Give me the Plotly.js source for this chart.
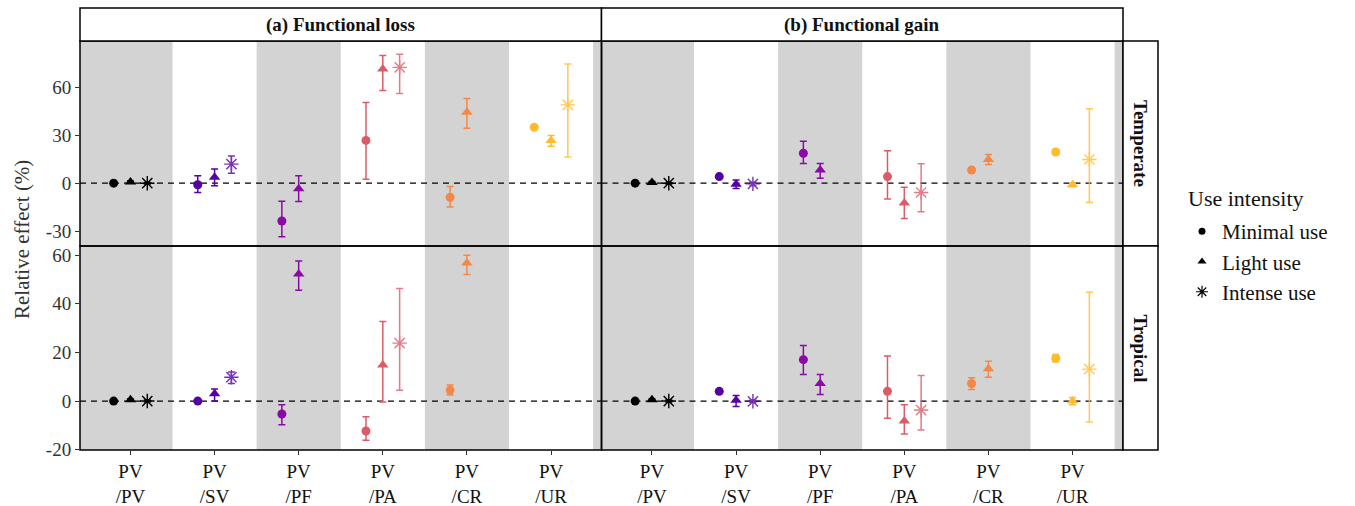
<!DOCTYPE html>
<html>
<head>
<meta charset="utf-8">
<script src="https://cdn.plot.ly/plotly-3.0.1.min.js"></script>
<style>html,body{margin:0;padding:0;background:#fff;}#chart{width:1355px;height:506px;}</style>
</head>
<body>
<div id="chart"></div>
<script>
// ---------- data ----------
const categories = ['PV/PV', 'PV/SV', 'PV/PF', 'PV/PA', 'PV/CR', 'PV/UR'];
const tickLabels = ['PV<br>/PV', 'PV<br>/SV', 'PV<br>/PF', 'PV<br>/PA', 'PV<br>/CR', 'PV<br>/UR'];
const categoryColors = ['#000000', '#5402a3', '#8b0aa5', '#db5c68', '#f48849', '#febc2a'];
const intensities = ['Minimal use', 'Light use', 'Intense use'];
const legendTitle = 'Use intensity';
const columns = ['(a) Functional loss', '(b) Functional gain'];
const rows = ['Temperate', 'Tropical'];
const yTicksTemperate = [-30, 0, 30, 60];
const yTicksTropical = [-20, 0, 20, 40, 60];

// (a) Functional loss, Temperate
const lossTempMinimal   = [0, -1.0, -23.6, 26.7, -8.8, 34.9];
const lossTempMinimalLo = [-0.6, -5.8, -33.5, 2.5, -14.8, 33.6];
const lossTempMinimalHi = [0.6, 4.7, -11.3, 50.3, -2.0, 36.3];
const lossTempLight     = [0.8, 3.7, -3.5, 71.3, 44.2, 26.7];
const lossTempLightLo   = [0.3, -1.6, -11.5, 57.9, 34.3, 23.0];
const lossTempLightHi   = [1.3, 8.8, 4.7, 79.7, 52.8, 29.8];
const lossTempIntense   = [0, 11.9, null, 72.3, null, 48.9];
const lossTempIntenseLo = [-0.5, 6.2, null, 56.0, null, 16.4];
const lossTempIntenseHi = [0.5, 17.0, null, 80.5, null, 74.4];

// (b) Functional gain, Temperate
const gainTempMinimal   = [0, 4.1, 18.7, 4.1, 8.2, 19.5];
const gainTempMinimalLo = [-0.5, 3.1, 12.3, -9.9, 6.7, 18.0];
const gainTempMinimalHi = [0.5, 5.1, 26.1, 20.3, 9.7, 21.0];
const gainTempLight     = [0.5, -0.6, 8.2, -12.3, 14.8, -1.0];
const gainTempLightLo   = [0.0, -3.3, 3.1, -22.0, 11.7, -2.0];
const gainTempLightHi   = [1.0, 2.0, 12.3, -2.5, 17.9, 0.0];
const gainTempIntense   = [0, -0.4, null, -5.8, null, 14.8];
const gainTempIntenseLo = [-0.5, -1.4, null, -17.9, null, -12.1];
const gainTempIntenseHi = [0.5, 0.6, null, 12.1, null, 46.4];

// (a) Functional loss, Tropical
const lossTropMinimal   = [0, 0, -5.3, -12.3, 4.5, null];
const lossTropMinimalLo = [-0.4, -0.4, -9.7, -16.1, 2.5, null];
const lossTropMinimalHi = [0.4, 0.4, -1.5, -6.4, 6.6, null];
const lossTropLight     = [0.5, 3.0, 52.2, 14.8, 56.7, null];
const lossTropLightLo   = [0.1, 0.0, 45.5, -0.4, 52.0, null];
const lossTropLightHi   = [0.9, 5.0, 57.5, 32.7, 59.9, null];
const lossTropIntense   = [0, 9.8, null, 23.8, null, null];
const lossTropIntenseLo = [-0.4, 7.2, null, 4.4, null, null];
const lossTropIntenseHi = [0.4, 11.9, null, 46.2, null, null];

// (b) Functional gain, Tropical
const gainTropMinimal   = [0, 4.0, 17.0, 4.0, 7.2, 17.6];
const gainTropMinimalLo = [-0.4, 3.2, 10.9, -7.1, 4.8, 16.1];
const gainTropMinimalHi = [0.4, 4.8, 22.8, 18.5, 9.6, 19.1];
const gainTropLight     = [0.5, 0.3, 7.2, -8.2, 13.3, 0.0];
const gainTropLightLo   = [0.1, -2.2, 2.7, -13.5, 9.8, -1.5];
const gainTropLightHi   = [0.9, 2.3, 10.9, -1.5, 16.4, 1.5];
const gainTropIntense   = [0, -0.1, null, -3.7, null, 13.1];
const gainTropIntenseLo = [-0.4, -0.6, null, -11.9, null, -8.6];
const gainTropIntenseHi = [0.4, 0.4, null, 10.5, null, 44.7];

// ---------- styling ----------
const FONT = 'Liberation Serif';
const xRange = [0.4, 6.6];
const dodge = [-0.2, 0, 0.2];
const symbols = ['circle', 'triangle-up', 'asterisk-open'];
const sizes = [9, 10, 12];
const rowSplit = 0.4988;

const panels = [
  {xa: 'x',  ya: 'y',  series: [[lossTempMinimal, lossTempMinimalLo, lossTempMinimalHi], [lossTempLight, lossTempLightLo, lossTempLightHi], [lossTempIntense, lossTempIntenseLo, lossTempIntenseHi]]},
  {xa: 'x2', ya: 'y',  series: [[gainTempMinimal, gainTempMinimalLo, gainTempMinimalHi], [gainTempLight, gainTempLightLo, gainTempLightHi], [gainTempIntense, gainTempIntenseLo, gainTempIntenseHi]]},
  {xa: 'x',  ya: 'y2', series: [[lossTropMinimal, lossTropMinimalLo, lossTropMinimalHi], [lossTropLight, lossTropLightLo, lossTropLightHi], [lossTropIntense, lossTropIntenseLo, lossTropIntenseHi]]},
  {xa: 'x2', ya: 'y2', series: [[gainTropMinimal, gainTropMinimalLo, gainTropMinimalHi], [gainTropLight, gainTropLightLo, gainTropLightHi], [gainTropIntense, gainTropIntenseLo, gainTropIntenseHi]]}
];

const traces = [];
panels.forEach(p => {
  p.series.forEach((s, k) => {
    const [vals, lo, hi] = s;
    categories.forEach((c, i) => {
      if (vals[i] === null) return;
      const col = categoryColors[i];
      const faded = (k === 2 && i > 0) ? 0.8 : 1;
      traces.push({
        type: 'scatter', mode: 'markers',
        x: [i + 1 + dodge[k]], y: [vals[i]],
        xaxis: p.xa, yaxis: p.ya,
        name: intensities[k] + ' ' + c,
        showlegend: false, hoverinfo: 'skip',
        opacity: faded,
        marker: {symbol: symbols[k], size: sizes[k], color: col, line: {color: col, width: k === 2 ? 1.4 : 0}},
        error_y: {type: 'data', symmetric: false, array: [hi[i] - vals[i]], arrayminus: [vals[i] - lo[i]],
                  color: col, thickness: 1.5, width: 3.5}
      });
    });
  });
});
// legend entries
intensities.forEach((name, k) => {
  traces.push({
    type: 'scatter', mode: 'markers', x: [null], y: [null], xaxis: 'x', yaxis: 'y',
    name: name, showlegend: true,
    marker: {symbol: symbols[k], size: [7, 8, 10][k], color: '#000', line: {color: '#000', width: k === 2 ? 1.2 : 0}}
  });
});

// ---------- shapes ----------
const shapes = [];
['x', 'x2'].forEach(xa => {
  for (let i = 1; i <= categories.length + 1; i += 2) {
    shapes.push({type: 'rect', layer: 'below', xref: xa, yref: 'paper',
      x0: i === 1 ? xRange[0] : i - 0.5, x1: Math.min(i + 0.5, xRange[1]), y0: 0, y1: 1,
      fillcolor: '#d3d3d3', line: {width: 0}});
  }
});
panels.forEach(p => {
  shapes.push({type: 'line', layer: 'below', xref: p.xa, yref: p.ya, x0: xRange[0], x1: xRange[1], y0: 0, y1: 0,
    line: {color: '#000', width: 1.3, dash: '6px,5px'}});
  shapes.push({type: 'rect', layer: 'above', xref: p.xa + ' domain', yref: p.ya + ' domain', x0: 0, x1: 1, y0: 0, y1: 1,
    line: {color: '#000', width: 1.5}, fillcolor: 'rgba(0,0,0,0)'});
});
// strips
const plotH = 506 - 41 - 56, plotW = 1355 - 80 - 232;
const stripTop = 1 + 33 / plotH;
const stripRight = 1 + 35 / plotW;
shapes.push({type: 'rect', xref: 'paper', yref: 'paper', x0: 0, x1: 0.5, y0: 1, y1: stripTop, fillcolor: '#fff', line: {color: '#000', width: 1.5}});
shapes.push({type: 'rect', xref: 'paper', yref: 'paper', x0: 0.5, x1: 1, y0: 1, y1: stripTop, fillcolor: '#fff', line: {color: '#000', width: 1.5}});
shapes.push({type: 'rect', xref: 'paper', yref: 'paper', x0: 1, x1: stripRight, y0: rowSplit, y1: 1, fillcolor: '#fff', line: {color: '#000', width: 1.5}});
shapes.push({type: 'rect', xref: 'paper', yref: 'paper', x0: 1, x1: stripRight, y0: 0, y1: rowSplit, fillcolor: '#fff', line: {color: '#000', width: 1.5}});

const stripFont = {family: FONT, size: 19, color: '#111', weight: 'bold'};
const annotations = [
  {text: columns[0], xref: 'paper', yref: 'paper', x: 0.25, y: (1 + stripTop) / 2, xanchor: 'center', yanchor: 'middle', showarrow: false, font: stripFont},
  {text: columns[1], xref: 'paper', yref: 'paper', x: 0.75, y: (1 + stripTop) / 2, xanchor: 'center', yanchor: 'middle', showarrow: false, font: stripFont},
  {text: rows[0], xref: 'paper', yref: 'paper', x: (1 + stripRight) / 2, y: (1 + rowSplit) / 2, xanchor: 'center', yanchor: 'middle', textangle: 90, showarrow: false, font: stripFont},
  {text: rows[1], xref: 'paper', yref: 'paper', x: (1 + stripRight) / 2, y: rowSplit / 2, xanchor: 'center', yanchor: 'middle', textangle: 90, showarrow: false, font: stripFont},
  {text: 'Relative effect (%)', xref: 'paper', yref: 'paper', x: (22 - 80) / plotW, y: (450 - 240) / plotH, xanchor: 'center', yanchor: 'middle', textangle: -90, showarrow: false, font: {family: FONT, size: 21, color: '#333'}},
  {text: legendTitle, xref: 'paper', yref: 'paper', x: (1186 - 80) / plotW, y: (450 - 198) / plotH, xanchor: 'left', yanchor: 'middle', showarrow: false, font: {family: FONT, size: 22, color: '#111'}}
];

const xCommon = {range: xRange, tickvals: categories.map((c, i) => i + 1), ticktext: tickLabels,
  ticks: 'outside', ticklen: 4, tickcolor: '#333', tickwidth: 1, showgrid: false, zeroline: false, showline: false,
  tickfont: {family: FONT, size: 19, color: '#111'}, fixedrange: true, anchor: 'y2'};
const yCommon = {ticks: 'outside', ticklen: 4, tickcolor: '#333', tickwidth: 1, showgrid: false, zeroline: false, showline: false,
  tickfont: {family: FONT, size: 19, color: '#333'}, fixedrange: true, anchor: 'x'};

const layout = {
  width: 1355, height: 506,
  margin: {l: 80, r: 232, t: 41, b: 56},
  paper_bgcolor: '#fff', plot_bgcolor: '#fff',
  font: {family: FONT, color: '#111'},
  xaxis: Object.assign({}, xCommon, {domain: [0, 0.5]}),
  xaxis2: Object.assign({}, xCommon, {domain: [0.5, 1]}),
  yaxis: Object.assign({}, yCommon, {domain: [rowSplit, 1], range: [-39.2, 88.75], tickvals: yTicksTemperate, ticktext: yTicksTemperate.map(String)}),
  yaxis2: Object.assign({}, yCommon, {domain: [0, rowSplit], range: [-20.1, 63.7], tickvals: yTicksTropical, ticktext: yTicksTropical.map(String)}),
  showlegend: true,
  legend: {x: (1182 - 80) / plotW, xanchor: 'left', y: (450 - 211) / plotH, yanchor: 'top',
    font: {family: FONT, size: 21, color: '#111'}, bgcolor: 'rgba(0,0,0,0)'},
  shapes: shapes,
  annotations: annotations
};

Plotly.newPlot('chart', traces, layout, {displayModeBar: false, staticPlot: true});
</script>
</body>
</html>
